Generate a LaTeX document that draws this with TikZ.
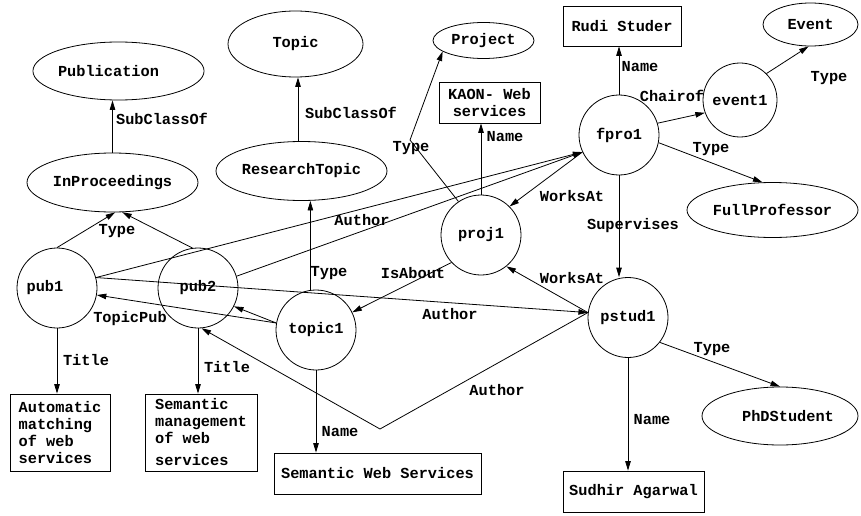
\documentclass[tikz,border=0pt]{standalone}
\usepackage{fontspec}
\newfontfamily\cour{Liberation Mono}
\usetikzlibrary{shapes.geometric,arrows.meta}
\begin{document}
\begin{tikzpicture}[x=1pt,y=-1pt,
  every node/.style={font=\cour\bfseries\fontsize{15.3}{17}\selectfont, inner sep=0pt},
  ell/.style={draw, ellipse, line width=0.8pt},
  circ/.style={draw, circle, minimum size=80pt, line width=0.8pt},
  box/.style={draw, rectangle, line width=0.8pt},
  arr/.style={-{Triangle[length=9.5pt,width=5.5pt]}, line width=0.8pt},
  lbl/.style={}]
\useasboundingbox (0,0) rectangle (861,516);

% class nodes
\node[ell, minimum width=171pt, minimum height=58pt] (publication) at (118.5,71) {Publication\kern20pt};
\node[ell, minimum width=135pt, minimum height=66pt] (topic) at (295.5,44) {Topic};
\node[ell, minimum width=101pt, minimum height=36pt] (project) at (483.5,40.5) {Project};
\node[box, minimum width=118pt, minimum height=40pt] (rudi) at (622,26) {Rudi Studer};
\node[ell, minimum width=95pt, minimum height=43pt] (event) at (810.5,24.5) {Event};
\node[box, minimum width=101pt, minimum height=41pt, align=center] (kaon) at (489.5,102.5) {KAON- Web\\services};
\node[ell, minimum width=171pt, minimum height=59pt] (inproc) at (112.5,182.5) {InProceedings};
\node[ell, minimum width=171pt, minimum height=59pt] (rtopic) at (301.5,171) {ResearchTopic};
\node[ell, minimum width=171pt, minimum height=55pt] (fullprof) at (772.5,210) {FullProfessor};
\node[ell, minimum width=156pt, minimum height=58pt] (phd) at (780,416) {\kern16pt PhDStudent};

% instance nodes
\node[circ] (fpro1) at (619,135) {fpro1};
\node[circ, minimum size=74pt] (event1) at (740,100) {event1};
\node[circ] (proj1) at (481,235) {proj1};
\node[circ] (pub1) at (57,288) {pub1\kern24pt};
\node[circ] (pub2) at (198,288) {pub2};
\node[circ] (topic1) at (316,330) {topic1};
\node[circ] (pstud1) at (628,317.5) {pstud1};

% literal boxes
\node[box, minimum width=100pt, minimum height=77pt, align=left] (auto) at (60,432.5) {Automatic\\matching\\of web\\services};
\node[box, minimum width=112pt, minimum height=77pt, align=left] (semman) at (201,432.5) {Semantic\\management\\of web\\[5pt]services};
\node[box, minimum width=207pt, minimum height=41pt] (sws) at (377.5,473.5) {Semantic Web Services};
\node[box, minimum width=141pt, minimum height=41pt] (sudhir) at (633.5,491.5) {Sudhir Agarwal};

% bend points
\coordinate (bend1) at (380,429);
\coordinate (bend2) at (410,140);

% connectors
\draw[arr] (inproc.north) -- (inproc.north |- publication.south);
\draw[arr] ([xshift=-3.5pt]rtopic.north) -- ([xshift=-3.5pt]rtopic.north |- topic.south);
\draw[arr] (pub1.north) -- (inproc.275);
\draw[arr] (pub2.98) -- (inproc.288);
\draw[arr] (pub1.15) -- (fpro1.205);
\draw[arr] (pub2.17) -- (fpro1.205);
\draw[arr] (pub1.15) -- (pstud1.173);
\draw[arr] (pstud1.173) -- (bend1) -- (pub2.275);
\draw[arr] (topic1.170) -- (pub1.-10);
\draw[arr] (topic1.170) -- (pub2.-27);
\draw[arr] (topic1.98) -- (topic1.98 |- rtopic.south);
\draw[arr] (proj1.223) -- (topic1.26);
\draw[arr] (proj1.124) -- (bend2) -- (project.195);
\draw[arr] (proj1.north) -- (proj1.north |- kaon.south);
\draw[arr] (fpro1.north) -- (fpro1.north |- rudi.south);
\draw[arr] (fpro1.17) -- (event1.200);
\draw[arr] (event1.45) -- (event.265);
\draw[arr] (fpro1.-11) -- (fullprof.110);
\draw[arr] (fpro1.205) -- (proj1.45);
\draw[arr] (pstud1.173) -- (proj1.-51);
\draw[arr] (fpro1.south) -- (fpro1.south |- pstud1.north);
\draw[arr] (pstud1.-38) -- (phd.north);
\draw[arr] (pstud1.south) -- (pstud1.south |- sudhir.north);
\draw[arr] (topic1.south) -- (topic1.south |- sws.north);
\draw[arr] (pub1.south) -- (pub1.south |- auto.north);
\draw[arr] (pub2.south) -- (pub2.south |- semman.north);

% connector labels
\node[lbl] (l1) at (162,119) {SubClassOf};
\node[lbl] (l2) at (351,113) {SubClassOf};
\node[lbl] (l3) at (411,148) {Type};
\node[lbl] (l4) at (505,137) {Name};
\node[lbl] (l5) at (640,67) {Name};
\node[lbl] (l6) at (672,96) {Chairof};
\node[lbl] (l7) at (829,78) {Type};
\node[lbl] (l8) at (711,149) {Type};
\node[lbl] (l9) at (572,196) {WorksAt};
\node[lbl] (l10) at (633,226) {Supervises};
\node[lbl] (l11) at (572,278) {WorksAt};
\node[lbl] (l12) at (362,220) {Author};
\node[lbl] (l13) at (117,231) {Type};
\node[lbl] (l14) at (329,273) {Type};
\node[lbl] (l15) at (413,273) {IsAbout};
\node[lbl] (l16) at (450,314) {Author};
\node[lbl] (l17) at (130,319) {TopicPub};
\node[lbl] (l18) at (86,360) {Title};
\node[lbl] (l19) at (227,367) {Title};
\node[lbl] (l20) at (497,390) {Author};
\node[lbl] (l21) at (340,432) {Name};
\node[lbl] (l22) at (712,349) {Type};
\node[lbl] (l23) at (652,420) {Name};
\end{tikzpicture}
\end{document}
